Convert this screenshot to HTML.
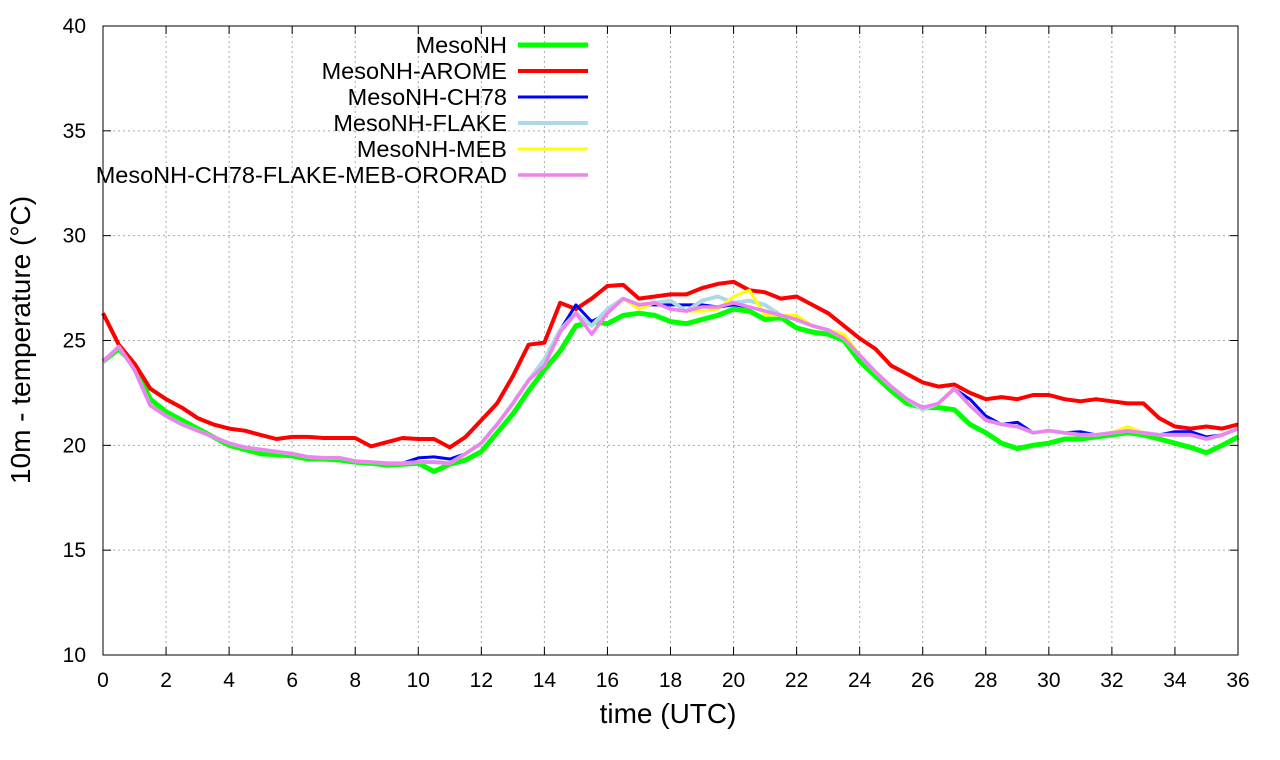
<!DOCTYPE html>
<html><head><meta charset="utf-8"><style>
body{margin:0;background:#fff;}
svg{display:block;font-family:"Liberation Sans",sans-serif;}
</style></head><body>
<svg id="s" width="1280" height="760" xmlns="http://www.w3.org/2000/svg"></svg>
<script>
const s=document.getElementById('s');
const X0=103,X1=1238,Y40=26,Y10=655;
const fx=t=>X0+(X1-X0)*t/36, fy=v=>Y10-(Y10-Y40)*(v-10)/30;
let h='';
for(let t=2;t<36;t+=2)h+=`<line x1="${fx(t)}" y1="${Y40}" x2="${fx(t)}" y2="${Y10}" stroke="#aaa" stroke-width="1" stroke-dasharray="2,3"/>`;
for(let v=15;v<40;v+=5)h+=`<line x1="${X0}" y1="${fy(v)}" x2="${X1}" y2="${fy(v)}" stroke="#aaa" stroke-width="1" stroke-dasharray="2,3"/>`;
for(let t=0;t<=36;t+=2){h+=`<line x1="${fx(t)}" y1="${Y10}" x2="${fx(t)}" y2="${Y10-8}" stroke="#000"/><line x1="${fx(t)}" y1="${Y40}" x2="${fx(t)}" y2="${Y40+8}" stroke="#000"/><text x="${fx(t)}" y="687" font-size="21" text-anchor="middle">${t}</text>`;}
for(let v=10;v<=40;v+=5){h+=`<line x1="${X0}" y1="${fy(v)}" x2="${X0+8}" y2="${fy(v)}" stroke="#000"/><line x1="${X1}" y1="${fy(v)}" x2="${X1-8}" y2="${fy(v)}" stroke="#000"/><text x="86" y="${fy(v)+7}" font-size="21" text-anchor="end">${v}</text>`;}
h+=`<text x="668" y="723" font-size="28" text-anchor="middle">time (UTC)</text>`;
h+=`<text transform="translate(30,340) rotate(-90)" font-size="28" text-anchor="middle">10m - temperature (°C)</text>`;
const red=[26.3,24.8,23.9,22.7,22.2,21.8,21.3,21.0,20.8,20.7,20.5,20.3,20.4,20.4,20.35,20.35,20.35,19.95,20.15,20.35,20.3,20.3,19.9,20.4,21.2,22.0,23.3,24.8,24.9,26.8,26.5,27.0,27.6,27.65,27.0,27.1,27.2,27.2,27.5,27.7,27.8,27.4,27.3,27.0,27.1,26.7,26.3,25.7,25.1,24.6,23.8,23.4,23.0,22.8,22.9,22.5,22.2,22.3,22.2,22.4,22.4,22.2,22.1,22.2,22.1,22.0,22.0,21.3,20.9,20.8,20.9,20.8,21.0];
const green=[24.0,24.6,23.8,22.2,21.6,21.2,20.8,20.4,20.0,19.8,19.6,19.55,19.5,19.35,19.35,19.3,19.2,19.15,19.05,19.1,19.15,18.75,19.1,19.3,19.7,20.6,21.5,22.6,23.6,24.5,25.7,25.9,25.8,26.2,26.3,26.2,25.9,25.8,26.0,26.2,26.5,26.4,26.0,26.1,25.6,25.4,25.3,25.0,24.0,23.3,22.6,22.0,21.8,21.8,21.7,21.0,20.6,20.1,19.85,20.0,20.1,20.3,20.3,20.4,20.5,20.6,20.5,20.3,20.1,19.9,19.65,20.0,20.4];
const base=[24.0,24.7,23.6,21.9,21.4,21.0,20.7,20.4,20.1,19.9,19.8,19.7,19.6,19.45,19.4,19.4,19.25,19.2,19.15,19.15,19.2,19.2,19.15,19.6,20.1,21.0,22.0,23.1,23.8,25.4,26.3,25.3,26.3,27.0,26.7,26.8,26.5,26.4,26.6,26.6,26.8,26.6,26.4,26.2,26.0,25.7,25.5,25.1,24.3,23.5,22.8,22.2,21.8,22.0,22.7,21.9,21.2,21.0,20.9,20.6,20.7,20.6,20.5,20.5,20.6,20.7,20.6,20.5,20.5,20.5,20.3,20.5,20.8];
const mod=(d)=>base.map((v,i)=>v+(d[i]||0));
const blue=mod({20:0.2,21:0.25,22:0.2,29:0.1,30:0.4,31:0.6,35:-0.1,36:0.2,37:0.3,38:0.1,40:-0.1,55:0.3,56:0.2,58:0.2,62:0.15,68:0.15,69:0.15,70:0.1});
const lb=mod({28:0.3,29:0.1,31:0.4,32:0.2,36:0.4,38:0.3,39:0.5,41:0.3,42:0.3,52:-0.1});
const yel=mod({34:-0.2,38:-0.2,39:-0.1,40:0.3,41:0.8,42:-0.2,44:0.2,47:0.2,65:0.2});
const pth=(a,c,w)=>`<polyline fill="none" stroke="${c}" stroke-width="${w}" stroke-linejoin="round" points="${a.map((v,i)=>fx(i/2).toFixed(1)+','+fy(v).toFixed(1)).join(' ')}"/>`;
h+=pth(green,'#00ff00',5)+pth(red,'#ff0000',4)+pth(blue,'#0000ff',3)+pth(lb,'#add8e6',4)+pth(yel,'#ffff00',3)+pth(base,'#ee82ee',3.5);
h+=`<rect x="${X0}" y="${Y40}" width="${X1-X0}" height="${Y10-Y40}" fill="none" stroke="#000" stroke-width="1"/>`;
const leg=[['MesoNH','#00ff00',5],['MesoNH-AROME','#ff0000',4],['MesoNH-CH78','#0000ff',3],['MesoNH-FLAKE','#add8e6',4],['MesoNH-MEB','#ffff00',3],['MesoNH-CH78-FLAKE-MEB-ORORAD','#ee82ee',3.5]];
leg.forEach((l,i)=>{const y=45+i*26;h+=`<text x="507" y="${y+8}" font-size="23.5" text-anchor="end">${l[0]}</text><line x1="518" y1="${y}" x2="588" y2="${y}" stroke="${l[1]}" stroke-width="${l[2]}"/>`;});
s.innerHTML=h;
</script>
</body></html>
